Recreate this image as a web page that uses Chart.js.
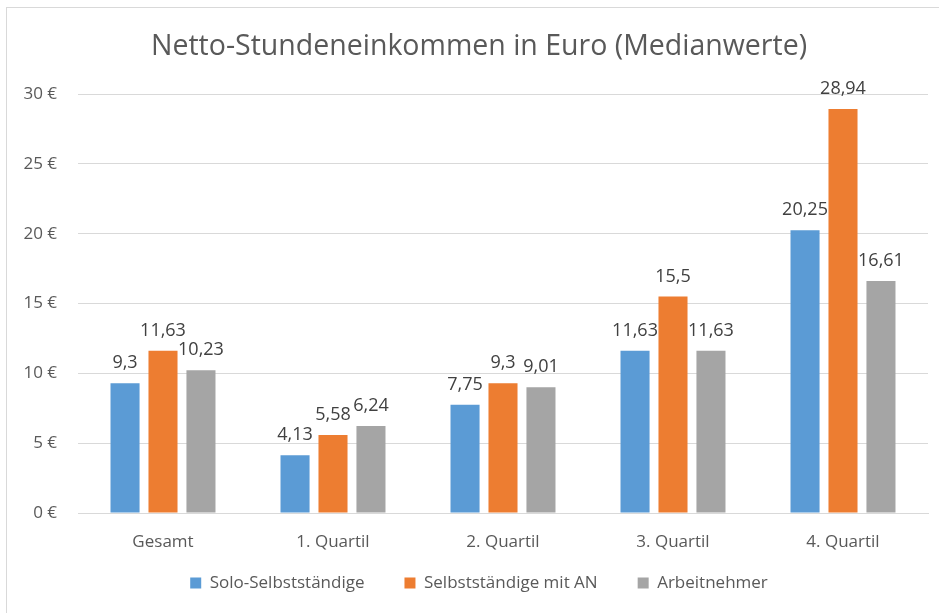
<!DOCTYPE html>
<html>
<head>
<meta charset="utf-8">
<script src="https://cdn.jsdelivr.net/npm/chart.js@4"></script>
<style>
  html, body { margin: 0; padding: 0; background: #fff; overflow: hidden; }
  #wrap { position: relative; width: 939px; height: 613px; overflow: hidden; }
  #frame { position: absolute; left: 6px; top: 7px; width: 960px; height: 620px; border: 1px solid #D9D9D9; box-sizing: border-box; pointer-events: none; }
</style>
</head>
<body>
<div id="wrap">
  <canvas id="chart" width="939" height="613"></canvas>
  <div id="frame"></div>
</div>
<script>
const categories = ['Gesamt', '1. Quartil', '2. Quartil', '3. Quartil', '4. Quartil'];
const soloSelbst = [9.3, 4.13, 7.75, 11.63, 20.25];
const selbstMitAN = [11.63, 5.58, 9.3, 15.5, 28.94];
const arbeitnehmer = [10.23, 6.24, 9.01, 11.63, 16.61];
const yTicks = [0, 5, 10, 15, 20, 25, 30];

const FONT = "'Open Sans', 'Noto Sans', sans-serif";
const TEXT = '#595959';

// Labels above each bar, German decimal comma
const valueLabels = {
  id: 'valueLabels',
  afterDatasetsDraw(chart) {
    const ctx = chart.ctx;
    ctx.save();
    ctx.font = '18px ' + FONT;
    ctx.fillStyle = '#404040';
    ctx.textAlign = 'center';
    ctx.textBaseline = 'alphabetic';
    chart.data.datasets.forEach((ds, i) => {
      chart.getDatasetMeta(i).data.forEach((bar, j) => {
        ctx.fillText(String(ds.data[j]).replace('.', ','), bar.x, bar.y - 15);
      });
    });
    ctx.restore();
  }
};

// Pull the legend up closer to the category labels
const legendShift = {
  id: 'legendShift',
  afterLayout(chart) {
    if (chart.legend) {
      chart.legend.top -= 38.5;
      chart.legend.bottom -= 38.5;
    }
  }
};

new Chart(document.getElementById('chart'), {
  type: 'bar',
  data: {
    labels: categories,
    datasets: [
      { label: 'Solo-Selbstständige', data: soloSelbst, backgroundColor: '#5B9BD5' },
      { label: 'Selbstständige mit AN', data: selbstMitAN, backgroundColor: '#ED7D31' },
      { label: 'Arbeitnehmer', data: arbeitnehmer, backgroundColor: '#A5A5A5' }
    ]
  },
  options: {
    responsive: false,
    animation: false,
    datasets: { bar: { categoryPercentage: 0.67, barPercentage: 0.765 } },
    layout: { padding: { left: 0, right: -19, top: 0, bottom: -27 } },
    plugins: {
      title: {
        display: true,
        text: 'Netto-Stundeneinkommen in Euro (Medianwerte)',
        color: TEXT,
        font: { family: FONT, size: 28.5, weight: 'normal' },
        padding: { top: 30, bottom: 30 }
      },
      legend: {
        position: 'bottom',
        labels: {
          color: TEXT,
          font: { family: FONT, size: 17 },
          boxWidth: 11,
          boxHeight: 11,
          padding: 40
        }
      },
      tooltip: { enabled: false }
    },
    scales: {
      x: {
        afterFit(axis) { axis.height = 60; },
        grid: { display: false },
        border: { color: '#D9D9D9' },
        ticks: { color: TEXT, font: { family: FONT, size: 17 }, padding: 11 }
      },
      y: {
        min: 0,
        max: 30,
        afterBuildTicks(axis) { axis.ticks = yTicks.map(v => ({ value: v })); },
        afterFit(axis) { axis.width = 78; },
        border: { display: false },
        grid: { color: '#D9D9D9', drawTicks: false },
        ticks: {
          color: TEXT,
          font: { family: FONT, size: 17 },
          padding: 21,
          callback: v => v + ' €'
        }
      },
      // empty spacer on the right so title and legend centre like the original
      spacer: {
        position: 'right',
        afterFit(axis) { axis.width = 30; },
        grid: { display: false },
        border: { display: false },
        ticks: { display: false }
      }
    }
  },
  plugins: [valueLabels, legendShift]
});
</script>
</body>
</html>
